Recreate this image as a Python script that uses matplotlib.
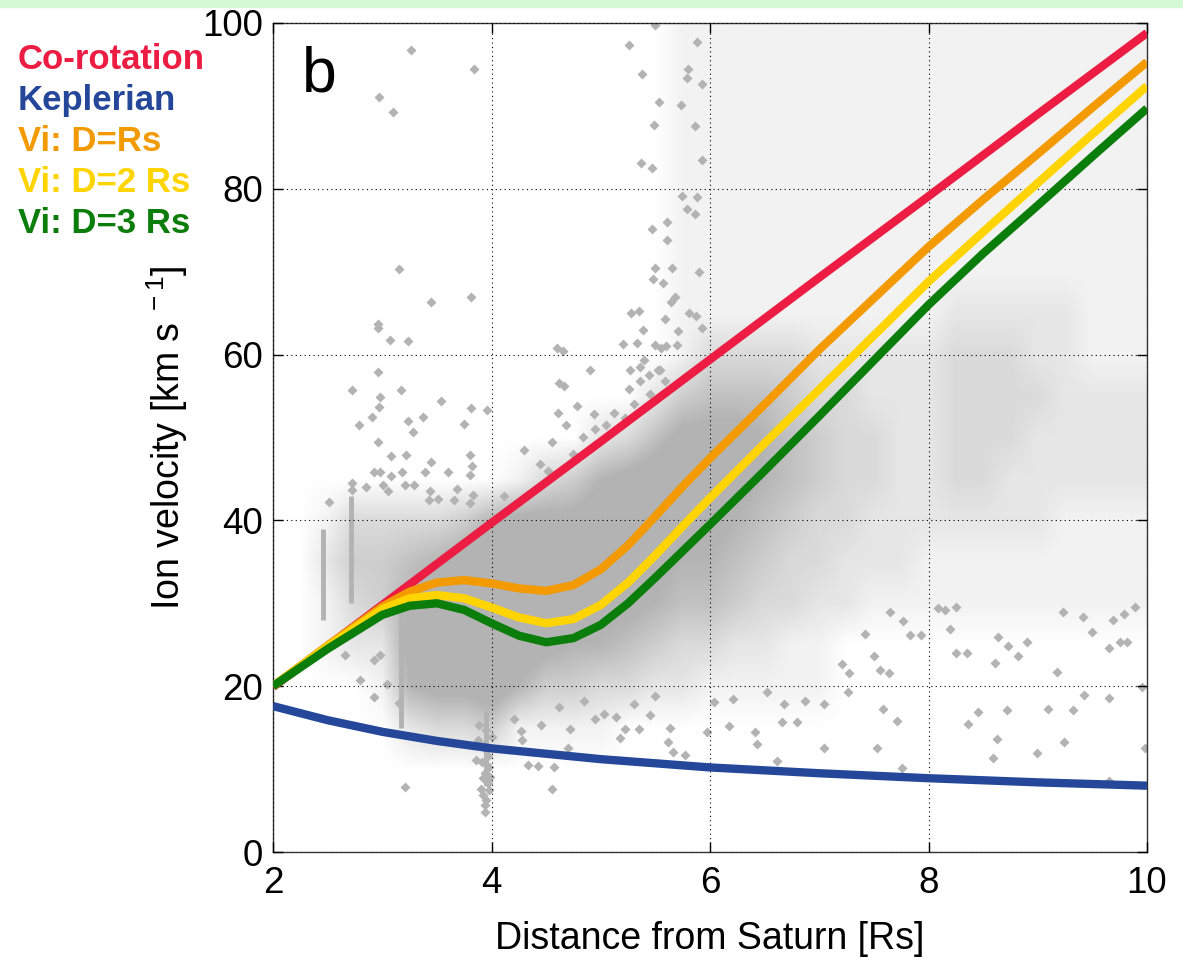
import matplotlib
matplotlib.use('Agg')
import matplotlib.pyplot as plt
import numpy as np
from matplotlib.colors import LinearSegmentedColormap
from matplotlib.patches import Rectangle

plt.rcParams['font.family'] = ['Liberation Sans', 'DejaVu Sans']
plt.rcParams['mathtext.fontset'] = 'custom'
plt.rcParams['mathtext.rm'] = 'Liberation Sans'
plt.rcParams['mathtext.it'] = 'Liberation Sans:italic'
plt.rcParams['mathtext.bf'] = 'Liberation Sans:bold'

# ---- model curves ----
corot_r = [2, 3, 4, 5, 6, 7, 8, 9, 10]
corot_v = [19.9, 29.8, 39.7, 49.5, 59.4, 69.3, 79.1, 89.0, 98.8]

kep_r = [2, 2.5, 3, 3.5, 4, 5, 6, 7, 8, 9, 10]
kep_v = [17.6, 15.9, 14.5, 13.4, 12.5, 11.2, 10.2, 9.5, 8.9, 8.4, 8.0]

vi_r = [2.0, 2.5, 3.0, 3.25, 3.5, 3.75, 4.0, 4.25, 4.5, 4.75, 5.0, 5.25,
        5.5, 5.75, 6.0, 6.5, 7.0, 7.5, 8.0, 8.5, 9.0, 9.5, 10.0]
vi_d1 = [20.0, 24.9, 29.6, 31.4, 32.5, 32.8, 32.4, 31.8, 31.5, 32.2, 34.1, 37.0,
         40.5, 44.1, 47.5, 54.0, 60.6, 66.8, 73.0, 78.7, 84.2, 89.8, 95.3]
vi_d2 = [20.0, 24.8, 29.3, 30.6, 31.0, 30.6, 29.5, 28.3, 27.6, 28.1, 29.8, 32.5,
         35.8, 39.3, 42.7, 49.3, 55.8, 62.3, 68.8, 74.8, 80.7, 86.6, 92.4]
vi_d3 = [20.0, 24.5, 28.6, 29.7, 30.0, 29.2, 27.6, 26.1, 25.3, 25.8, 27.4, 30.0,
         33.1, 36.3, 39.5, 46.0, 52.6, 59.3, 66.0, 72.2, 78.0, 83.9, 89.7]

# ---- ion velocity cloud: coverage 0-9 per node, rows v=100 (top) .. v=0 ----
grid_r = np.linspace(2, 10, 33)
grid_v = np.linspace(0, 100, 21)
density_rows = [
    "000000000000000111111111111111111",  # 100
    "000000000000000111111111111111111",  # 95
    "000000000000000111111111111111111",  # 90
    "000000000000000111111111111111111",  # 85
    "000000000000000111111111111111111",  # 80
    "000000000000000111111111111111111",  # 75
    "000000000000000111111111111111111",  # 70
    "000000000000000111111111122222111",  # 65
    "000000000000000133332222233322111",  # 60
    "000000000000002455543322233332222",  # 55
    "000000000000235777654332233322222",  # 50
    "000000000134678887654332233222222",  # 45
    "001333346777888876543322222221111",  # 40
    "002445678888887665433222111111111",  # 35
    "001346888888776554332211111111111",  # 30
    "001227888876654332211000000000000",  # 25
    "000016778644332211111000000000000",  # 20
    "000002334111100000000000000000000",  # 15
    "000000000000000000000000000000000",  # 10
    "000000000000000000000000000000000",  # 5
    "000000000000000000000000000000000",  # 0
]

# narrow vertical streaks of samples
stripe_r = [2.46, 2.71, 3.17, 3.95]
stripe_lo = [28, 30, 15, 8]
stripe_hi = [39, 43, 30, 17]

# isolated samples above the co-rotation line
upper_r = [3.26, 3.84, 2.97, 3.10, 5.26, 5.38, 5.50, 5.88, 5.80, 5.79, 5.93, 5.53,
           5.73, 5.49, 5.86, 5.37, 5.47, 5.93, 5.74, 5.88, 5.79, 5.86, 5.47, 5.61,
           5.61, 5.50, 5.65, 5.48, 5.57, 5.90, 3.15, 3.45, 3.81, 2.96, 2.96, 3.07,
           3.24, 2.96, 2.72, 3.17, 2.98, 3.54, 2.97, 3.81, 3.96, 3.37, 2.91, 4.60,
           4.65, 4.90, 4.62, 4.66, 4.61, 4.94, 5.20, 5.33, 5.28, 5.35, 5.39, 5.50,
           5.55, 5.60, 5.70, 5.59, 5.68, 5.64, 5.81, 5.87, 5.71, 5.93, 5.27, 5.36,
           5.52, 5.40, 5.36, 5.26, 5.45, 5.59, 5.54, 2.79, 3.28, 3.75, 3.24, 2.96,
           3.22, 3.08, 3.80, 3.82, 3.80, 3.45, 3.39, 2.92, 2.98, 3.18, 3.60, 3.08,
           4.44, 4.52, 4.68, 4.84, 2.72, 2.72, 2.85, 3.01, 3.05, 3.21, 3.29, 3.43,
           3.66, 2.51, 3.80, 3.68, 3.83, 3.51, 3.44, 4.11, 5.12, 5.30, 5.44, 5.05,
           5.22, 4.30, 4.55, 4.75, 4.95, 4.78]
upper_v = [96.7, 94.5, 91.1, 89.3, 97.3, 93.9, 99.8, 97.7, 94.4, 93.4, 92.7, 90.5,
           90.1, 87.7, 87.6, 83.1, 82.5, 83.5, 79.1, 79.0, 77.6, 76.9, 75.1, 76.0,
           73.8, 70.4, 70.5, 69.1, 68.6, 70.0, 70.3, 66.3, 66.9, 63.7, 63.2, 61.8,
           61.7, 57.9, 55.7, 55.7, 54.9, 54.4, 53.7, 53.5, 53.3, 52.5, 52.5, 60.8,
           60.4, 58.1, 56.6, 56.2, 53.0, 52.8, 61.3, 61.4, 65.0, 65.2, 63.0, 61.2,
           60.8, 61.0, 61.2, 64.3, 67.0, 66.3, 65.0, 64.7, 62.9, 63.2, 58.1, 58.5,
           58.1, 59.4, 56.8, 55.9, 55.3, 56.8, 58.1, 51.5, 50.7, 51.6, 52.0, 49.4,
           47.9, 47.8, 47.9, 46.6, 45.5, 47.0, 45.8, 45.8, 45.8, 45.8, 45.8, 45.3,
           46.8, 46.0, 51.5, 50.1, 44.5, 43.7, 44.0, 44.3, 43.5, 44.3, 44.3, 42.5,
           42.5, 42.2, 42.1, 43.8, 43.1, 42.6, 43.5, 42.9, 53.0, 54.0, 57.5, 51.5,
           52.3, 48.5, 49.5, 48.0, 51.0, 53.8]

# isolated samples below the main cloud
lower_r = [6.21, 6.04, 5.97, 6.17, 6.41, 6.43, 6.66, 6.80, 6.68, 6.87, 7.04, 6.61,
           7.04, 7.58, 7.71, 7.53, 7.76, 6.52, 7.26, 8.36, 8.45, 8.63, 8.59, 8.72,
           8.99, 9.09, 9.24, 9.32, 9.42, 9.65, 9.65, 9.98, 9.95, 7.83, 7.93, 7.77,
           7.65, 7.50, 7.64, 7.56, 7.42, 7.27, 7.21, 8.25, 8.35, 8.20, 8.25, 8.15,
           8.09, 8.64, 8.73, 8.82, 8.61, 8.90, 9.18, 9.23, 9.41, 9.50, 9.65, 9.75,
           9.82, 9.69, 9.79, 9.89, 3.21, 4.55, 4.33, 4.43, 4.57, 4.72, 5.22, 5.35,
           5.62, 5.77, 5.66, 5.18, 5.63, 5.03, 5.14, 4.28, 4.27, 4.21, 2.80, 3.15,
           2.92, 2.98, 3.04, 2.66, 2.72, 2.92, 4.62, 4.85, 4.95, 5.30, 5.45, 4.45,
           4.70, 5.50]
lower_v = [18.5, 18.1, 14.5, 15.2, 14.5, 13.0, 15.7, 15.7, 17.9, 18.2, 17.8, 11.0,
           12.6, 17.3, 15.8, 12.6, 10.1, 19.3, 19.3, 15.4, 16.9, 13.6, 11.3, 17.1,
           12.0, 17.3, 13.3, 17.1, 18.9, 18.6, 8.6, 12.5, 19.9, 26.2, 26.2, 27.9,
           29.0, 23.6, 21.6, 22.0, 26.3, 21.6, 22.7, 24.0, 24.0, 26.9, 29.6, 29.2,
           29.4, 25.9, 24.9, 23.6, 22.8, 25.3, 21.7, 29.0, 28.4, 26.5, 24.6, 25.3,
           25.3, 28.0, 28.7, 29.6, 7.9, 7.6, 10.5, 10.4, 10.2, 14.8, 14.8, 14.8,
           13.3, 11.7, 12.1, 13.7, 15.0, 16.6, 16.3, 13.5, 14.6, 16.1, 20.7, 18.0,
           23.2, 23.8, 20.3, 23.8, 26.4, 18.7, 17.5, 18.2, 16.0, 17.8, 16.5, 15.3,
           12.5, 18.8]

# the low-velocity spike near 4 Rs
spike_r = [4.00, 3.95, 3.91, 3.94, 3.97, 3.92, 3.95, 3.94, 3.94, 3.86, 3.98, 3.92,
           3.98, 3.88, 3.95, 3.89, 3.97, 3.93, 3.99, 3.90]
spike_v = [13.9, 12.3, 10.9, 9.5, 8.3, 6.9, 6.3, 5.7, 4.8, 11.1, 10.3, 8.9,
           7.5, 13.5, 14.7, 15.3, 11.6, 12.9, 9.0, 7.6]

legend_labels = ['Co-rotation', 'Keplerian', 'Vi: D=Rs', 'Vi: D=2 Rs', 'Vi: D=3 Rs']
legend_colors = ['#ec1c43', '#24479a', '#f29a00', '#ffd400', '#0b7d0b']

gray = '#b3b3b3'

fig = plt.figure(figsize=(11.83, 9.65), dpi=100)
fig.patches.append(Rectangle((0, 1 - 7 / 965), 1, 7 / 965, transform=fig.transFigure,
                             color='#d4f9d4', zorder=0))
ax = fig.add_axes([273 / 1183, 113 / 965, 874 / 1183, 829 / 965])

# cloud of measurements
cloud_cmap = LinearSegmentedColormap.from_list('cloud', ['#ffffff', gray])
dens = np.array([[int(c) for c in row] for row in density_rows[::-1]])
dr = (grid_r[1] - grid_r[0]) / 2
dv = (grid_v[1] - grid_v[0]) / 2
ax.imshow(dens, origin='lower', aspect='auto', interpolation='bilinear',
          extent=(grid_r[0] - dr, grid_r[-1] + dr, grid_v[0] - dv, grid_v[-1] + dv),
          cmap=cloud_cmap, vmin=0, vmax=6.2, zorder=0.5)
ax.vlines(stripe_r, stripe_lo, stripe_hi, colors=gray, lw=3.5, zorder=1)
for xs, vs in [(upper_r, upper_v), (lower_r, lower_v), (spike_r, spike_v)]:
    ax.plot(xs, vs, 'D', ms=5, color=gray, mec='none', zorder=1)

# model curves
curves = [(corot_r, corot_v), (kep_r, kep_v), (vi_r, vi_d1), (vi_r, vi_d2), (vi_r, vi_d3)]
for (xs, vs), col in zip(curves, legend_colors):
    ax.plot(xs, vs, color=col, lw=6, zorder=3, solid_capstyle='butt',
            solid_joinstyle='round')

ax.set_xlim(2, 10)
ax.set_ylim(0, 100)
ax.set_xticks([2, 4, 6, 8, 10])
ax.set_yticks([0, 20, 40, 60, 80, 100])
ax.grid(True, ls=(0, (1, 3)), color='black', lw=0.8)
ax.set_axisbelow(False)
ax.tick_params(direction='in', length=7, width=1, top=True, right=True, labelsize=26.5)
ax.tick_params(axis='x', pad=10)
ax.tick_params(axis='y', pad=7)
for s in ax.spines.values():
    s.set_linewidth(1)
    s.set_color('#333333')

ax.set_xlabel('Distance from Saturn [Rs]', fontsize=27)
ax.xaxis.set_label_coords(0.5, -0.083)
ax.set_ylabel(r'Ion velocity [km s$^{\ -1}$]', fontsize=27)
ax.yaxis.set_label_coords(-0.095, 0.5)

ax.text(0.033, 0.917, 'b', transform=ax.transAxes, fontsize=45, va='baseline', ha='left')

baselines = [69, 110, 151, 192, 233]
for lab, col, b in zip(legend_labels, legend_colors, baselines):
    fig.text(18 / 1183, 1 - b / 965, lab, color=col, fontsize=25, fontweight='bold',
             va='baseline', ha='left')

fig.savefig('out.png', dpi=100)
